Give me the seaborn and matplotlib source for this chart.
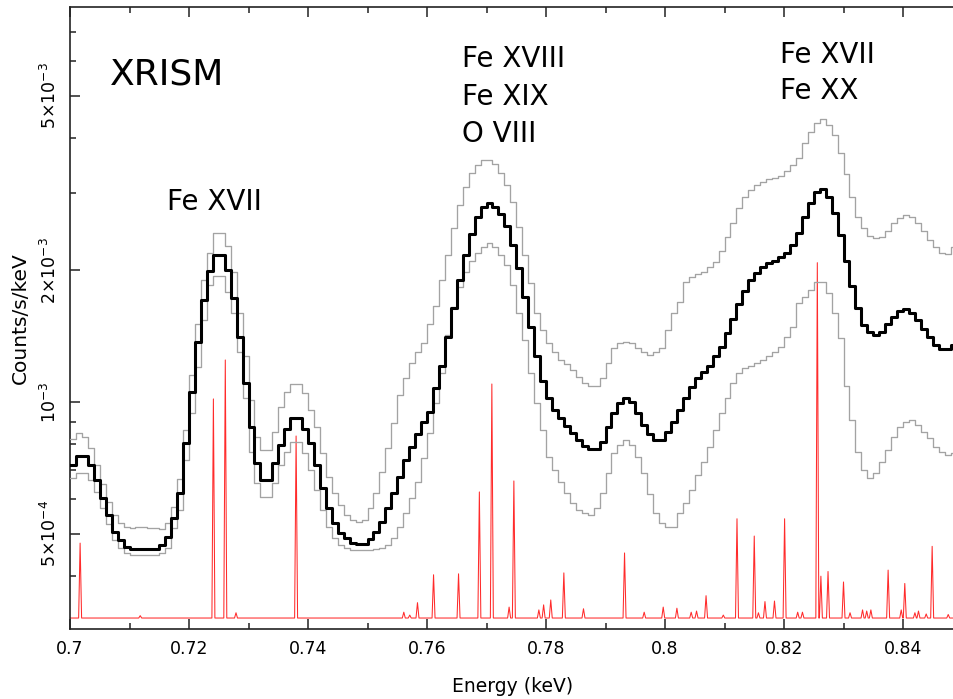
import numpy as np
import pandas as pd
import matplotlib
matplotlib.use("Agg")
import matplotlib.pyplot as plt
from matplotlib.ticker import FixedLocator, FixedFormatter, LogLocator, NullFormatter, MultipleLocator
import seaborn as sns

# spectrum binning (keV)
bin_start = 0.700
bin_width = 0.001

# counts/s/keV, in units of 1e-3 (one value per 1 eV bin from 0.700 keV)
best = [
    0.718, 0.753, 0.753, 0.718, 0.664, 0.604, 0.552, 0.505, 0.484, 0.467,
    0.462, 0.462, 0.462, 0.462, 0.462, 0.472, 0.492, 0.544, 0.620, 0.806,
    1.054, 1.371, 1.71, 1.99, 2.17, 2.17, 2.00, 1.73, 1.41, 1.105,
    0.877, 0.725, 0.664, 0.664, 0.725, 0.798, 0.868, 0.919, 0.919, 0.868,
    0.806, 0.718, 0.636, 0.573, 0.530, 0.502, 0.489, 0.477, 0.474, 0.474,
    0.487, 0.505, 0.532, 0.573, 0.620, 0.674, 0.737, 0.789, 0.845, 0.900,
    0.949, 1.076, 1.21, 1.41, 1.64, 1.90, 2.17, 2.42, 2.64, 2.79,
    2.85, 2.79, 2.69, 2.52, 2.28, 2.02, 1.74, 1.48, 1.27, 1.117,
    1.021, 0.959, 0.919, 0.882, 0.850, 0.819, 0.794, 0.781, 0.781, 0.810,
    0.877, 0.944, 0.995, 1.021, 1.000, 0.944, 0.886, 0.845, 0.819, 0.819,
    0.854, 0.900, 0.959, 1.021, 1.082, 1.134, 1.171, 1.21, 1.27, 1.335,
    1.437, 1.55, 1.67, 1.79, 1.90, 1.97, 2.03, 2.08, 2.10, 2.14,
    2.19, 2.28, 2.43, 2.64, 2.85, 3.02, 3.07, 2.94, 2.70, 2.41,
    2.10, 1.84, 1.64, 1.50, 1.445, 1.42, 1.445, 1.51, 1.56, 1.61,
    1.63, 1.60, 1.54, 1.47, 1.41, 1.35, 1.32, 1.32, 1.35,
]
upper = [
    0.823, 0.850, 0.832, 0.785, 0.718, 0.650, 0.591, 0.552, 0.530, 0.519,
    0.516, 0.519, 0.519, 0.516, 0.516, 0.513, 0.530, 0.576, 0.667, 0.863,
    1.15, 1.51, 1.90, 2.19, 2.43, 2.43, 2.27, 1.98, 1.60, 1.27,
    1.011, 0.832, 0.777, 0.777, 0.854, 0.974, 1.054, 1.099, 1.099, 1.048,
    0.959, 0.877, 0.765, 0.674, 0.620, 0.582, 0.552, 0.538, 0.532, 0.538,
    0.573, 0.620, 0.692, 0.785, 0.895, 1.037, 1.134, 1.23, 1.30, 1.36,
    1.51, 1.66, 1.90, 2.17, 2.50, 2.82, 3.10, 3.33, 3.47, 3.57,
    3.57, 3.49, 3.33, 3.13, 2.86, 2.51, 2.17, 1.87, 1.60, 1.46,
    1.36, 1.30, 1.25, 1.22, 1.18, 1.14, 1.105, 1.09, 1.09, 1.134,
    1.23, 1.33, 1.36, 1.37, 1.36, 1.33, 1.30, 1.28, 1.30, 1.33,
    1.46, 1.60, 1.69, 1.88, 1.93, 1.96, 1.98, 2.03, 2.09, 2.21,
    2.38, 2.56, 2.77, 2.94, 3.05, 3.13, 3.18, 3.23, 3.25, 3.28,
    3.37, 3.47, 3.60, 3.90, 4.14, 4.34, 4.43, 4.29, 4.07, 3.70,
    3.31, 2.94, 2.64, 2.50, 2.39, 2.37, 2.38, 2.46, 2.56, 2.63,
    2.67, 2.64, 2.56, 2.46, 2.34, 2.26, 2.19, 2.18, 2.26,
]
lower = [
    0.670, 0.689, 0.689, 0.664, 0.623, 0.573, 0.527, 0.484, 0.465, 0.452,
    0.448, 0.448, 0.448, 0.448, 0.448, 0.452, 0.465, 0.516, 0.567, 0.737,
    0.944, 1.20, 1.54, 1.85, 1.94, 1.94, 1.78, 1.60, 1.30, 1.021,
    0.769, 0.653, 0.606, 0.606, 0.653, 0.718, 0.769, 0.810, 0.810, 0.765,
    0.700, 0.630, 0.567, 0.519, 0.489, 0.472, 0.465, 0.460, 0.460, 0.460,
    0.460, 0.462, 0.465, 0.472, 0.489, 0.519, 0.558, 0.604, 0.657, 0.745,
    0.850, 0.995, 1.165, 1.42, 1.65, 1.83, 1.98, 2.10, 2.19, 2.26,
    2.31, 2.26, 2.17, 2.06, 1.85, 1.60, 1.386, 1.165, 0.995, 0.863,
    0.749, 0.700, 0.657, 0.620, 0.588, 0.567, 0.558, 0.552, 0.573, 0.620,
    0.689, 0.765, 0.798, 0.819, 0.798, 0.749, 0.689, 0.616, 0.558, 0.530,
    0.519, 0.519, 0.558, 0.588, 0.630, 0.681, 0.729, 0.789, 0.863, 0.944,
    1.021, 1.105, 1.165, 1.196, 1.21, 1.23, 1.25, 1.27, 1.30, 1.335,
    1.41, 1.48, 1.68, 1.74, 1.80, 1.88, 1.88, 1.77, 1.60, 1.40,
    1.09, 0.910, 0.769, 0.700, 0.670, 0.689, 0.729, 0.777, 0.832, 0.877,
    0.900, 0.910, 0.886, 0.854, 0.827, 0.789, 0.769, 0.757, 0.765,
]

# model line spectrum (keV, units of 1e-3)
model_base = 0.321
line_energy = [0.7017, 0.7118, 0.7241, 0.7261, 0.7279, 0.7380, 0.7561, 0.7571,
               0.7584, 0.7611, 0.7653, 0.7688, 0.7709, 0.7738, 0.7746, 0.7788,
               0.7796, 0.7808, 0.7830, 0.7863, 0.7932, 0.7965, 0.7997, 0.8020,
               0.8044, 0.8053, 0.8069, 0.8098, 0.8121, 0.8150, 0.8157, 0.8168,
               0.8184, 0.8201, 0.8223, 0.8231, 0.8256, 0.8262, 0.8274, 0.8300,
               0.8311, 0.8332, 0.8339, 0.8346, 0.8375, 0.8397, 0.8403, 0.8420,
               0.8426, 0.8439, 0.8449, 0.8476]
line_peak = [0.476, 0.325, 1.016, 1.247, 0.330, 0.836, 0.331, 0.326,
             0.348, 0.403, 0.405, 0.623, 1.099, 0.340, 0.660, 0.335,
             0.344, 0.353, 0.407, 0.337, 0.452, 0.331, 0.340, 0.338,
             0.331, 0.333, 0.361, 0.326, 0.541, 0.494, 0.330, 0.350,
             0.351, 0.541, 0.331, 0.331, 2.08, 0.400, 0.410, 0.388,
             0.330, 0.335, 0.333, 0.335, 0.413, 0.335, 0.385, 0.330,
             0.333, 0.328, 0.468, 0.327]

x_ticks = [0.70, 0.72, 0.74, 0.76, 0.78, 0.80, 0.82, 0.84]
x_tick_labels = ["0.7", "0.72", "0.74", "0.76", "0.78", "0.8", "0.82", "0.84"]
y_ticks = [5e-4, 1e-3, 2e-3, 5e-3]
y_tick_labels = [r"5$\times$10$^{-4}$", r"10$^{-3}$", r"2$\times$10$^{-3}$", r"5$\times$10$^{-3}$"]

sns.set_style("ticks")
plt.rcParams["font.family"] = ["DejaVu Sans"]
plt.rcParams["mathtext.fontset"] = "dejavusans"
plt.rcParams["text.color"] = "black"
plt.rcParams["axes.labelcolor"] = "black"
plt.rcParams["xtick.color"] = "black"
plt.rcParams["ytick.color"] = "black"


def step_frame(values):
    n = len(values)
    edges = bin_start + bin_width * np.arange(n + 1)
    flux = np.append(values, values[-1]) * 1e-3
    return pd.DataFrame({"energy": edges, "flux": flux})


# thin triangular profile for each model line
half_w = 0.00025
order = np.argsort(line_energy)
mx, my = [0.70], [model_base * 1e-3]
for i in order:
    e, p = line_energy[i], line_peak[i]
    mx += [e - half_w, e, e + half_w]
    my += [model_base * 1e-3, p * 1e-3, model_base * 1e-3]
mx.append(0.85)
my.append(model_base * 1e-3)
model = pd.DataFrame({"energy": mx, "flux": my})

fig = plt.figure(figsize=(9.54, 6.99), dpi=100)
ax = fig.add_axes([70 / 954, 70 / 699, 892.5 / 954, 622 / 699])

sns.lineplot(data=model, x="energy", y="flux", sort=False, estimator=None,
             color="#ff2b2b", lw=0.75, ax=ax, zorder=2)
for vals in (upper, lower):
    sns.lineplot(data=step_frame(vals), x="energy", y="flux", estimator=None,
                 drawstyle="steps-post", color="#a3a3a3", lw=0.95, ax=ax, zorder=3)
sns.lineplot(data=step_frame(best), x="energy", y="flux", estimator=None,
             drawstyle="steps-post", color="black", lw=2.2, ax=ax, zorder=4)

ax.set_yscale("log")
ax.set_xlim(0.70, 0.85)
ax.set_ylim(3.03e-4, 7.98e-3)

ax.xaxis.set_major_locator(FixedLocator(x_ticks))
ax.xaxis.set_major_formatter(FixedFormatter(x_tick_labels))
ax.xaxis.set_minor_locator(MultipleLocator(0.01))
ax.yaxis.set_major_locator(FixedLocator(y_ticks))
ax.yaxis.set_major_formatter(FixedFormatter(y_tick_labels))
ax.yaxis.set_minor_locator(LogLocator(base=10, subs=np.arange(2, 10)))
ax.yaxis.set_minor_formatter(NullFormatter())

ax.tick_params(which="both", direction="in", top=True, right=False,
               width=1.1, color="#222222", labelcolor="black")
ax.tick_params(which="major", length=7.5)
ax.tick_params(which="minor", length=4.5)
ax.tick_params(axis="x", labelsize=12.5, pad=8)
ax.tick_params(axis="y", labelsize=12.5, pad=7, labelrotation=90)
plt.setp(ax.get_yticklabels(), va="center")

for side in ("left", "bottom", "top"):
    ax.spines[side].set_linewidth(1.2)
    ax.spines[side].set_color("#222222")
ax.spines["right"].set_visible(False)

ax.set_xlabel("Energy (keV)", fontsize=13.5)
ax.xaxis.set_label_coords(0.4955, -0.077)
ax.set_ylabel("Counts/s/keV", fontsize=14.5)
ax.yaxis.set_label_coords(-0.0448, 0.5)

ax.text(0.0448, 0.8746, "XRISM", transform=ax.transAxes, fontsize=26, va="baseline")
ax.text(0.1087, 0.6736, "Fe XVII", transform=ax.transAxes, fontsize=20, va="baseline")
for txt, yb in (("Fe XVIII", 0.9035), ("Fe XIX", 0.8424), ("O VIII", 0.7830)):
    ax.text(0.4392, yb, txt, transform=ax.transAxes, fontsize=20, va="baseline")
for txt, yb in (("Fe XVII", 0.910), ("Fe XX", 0.852)):
    ax.text(0.7955, yb, txt, transform=ax.transAxes, fontsize=20, va="baseline")

fig.savefig("out.png", dpi=100)
